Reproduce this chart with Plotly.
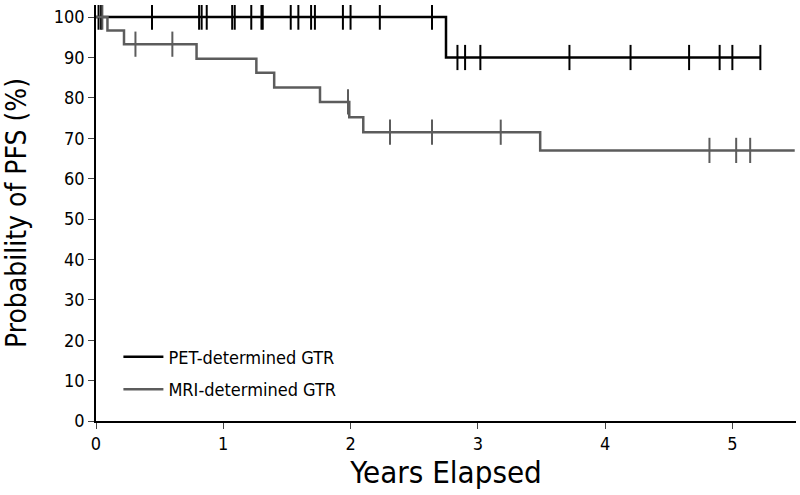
import plotly.graph_objects as go

# ---- data (years, survival %) ----
pet_event_times = [0.0, 2.75]
pet_survival = [100.0, 90.0]
pet_last_followup = 5.22
pet_censor_times = [0.02, 0.04, 0.44, 0.81, 0.83, 0.87, 1.07, 1.09, 1.22, 1.30, 1.31,
                    1.53, 1.59, 1.69, 1.72, 1.94, 2.00, 2.23, 2.64,
                    2.84, 2.90, 3.02, 3.72, 4.20, 4.66, 4.90, 5.00, 5.22]

mri_event_times = [0.0, 0.09, 0.22, 0.79, 1.26, 1.40, 1.76, 1.99, 2.10, 3.49]
mri_survival = [100.0, 96.7, 93.3, 89.7, 86.2, 82.6, 79.0, 75.2, 71.5, 67.0]
mri_last_followup = 5.49
mri_censor_times = [0.05, 0.31, 0.60, 1.98, 2.31, 2.64, 3.18, 4.82, 5.03, 5.14]

x_ticks = [0, 1, 2, 3, 4, 5]
y_ticks = [0, 10, 20, 30, 40, 50, 60, 70, 80, 90, 100]

FONT = "DejaVu Sans Condensed, DejaVu Sans"


def surv_at(t, times, surv):
    s = surv[0]
    for tt, ss in zip(times, surv):
        if tt <= t:
            s = ss
    return s


def step_xy(times, surv, last):
    return list(times) + [last], list(surv) + [surv[-1]]


fig = go.Figure()

series = [
    ("PET-determined GTR", pet_event_times, pet_survival, pet_last_followup, pet_censor_times, "#000000"),
    ("MRI-determined GTR", mri_event_times, mri_survival, mri_last_followup, mri_censor_times, "#5c5c5c"),
]

for name, times, surv, last, cens, color in series:
    xs, ys = step_xy(times, surv, last)
    fig.add_trace(go.Scatter(x=xs, y=ys, mode="lines", line=dict(color=color, width=2.5, shape="hv"),
                             name=name, legendgroup=name, showlegend=True))
    fig.add_trace(go.Scatter(x=cens, y=[surv_at(t, times, surv) for t in cens], mode="markers",
                             marker=dict(symbol="line-ns-open", size=18, color=color,
                                         line=dict(color=color, width=2)),
                             legendgroup=name, showlegend=False, hoverinfo="skip"))

fig.update_layout(
    width=800, height=495,
    margin=dict(l=96, r=4, t=5, b=74),
    paper_bgcolor="white", plot_bgcolor="white",
    font=dict(family=FONT, color="black", size=19),
    legend=dict(x=0.032, y=0.198, xanchor="left", yanchor="top", bgcolor="rgba(0,0,0,0)",
                font=dict(size=18, family=FONT), itemwidth=40, tracegroupgap=6,
                traceorder="grouped"),
    xaxis=dict(range=[0, 5.5], tickvals=x_ticks, ticks="outside", ticklen=6, tickwidth=1.3,
               showline=True, linecolor="black", linewidth=1.5, showgrid=False, zeroline=False,
               tickfont=dict(size=18, family=FONT),
               title=dict(text="Years Elapsed", font=dict(size=31, family=FONT), standoff=2)),
    yaxis=dict(range=[0, 103], tickvals=y_ticks, ticks="outside", ticklen=6, tickwidth=1.3,
               showline=True, linecolor="black", linewidth=1.5, showgrid=False, zeroline=False,
               tickfont=dict(size=18, family=FONT),
               title=dict(text="Probability of PFS (%)", font=dict(size=28, family=FONT), standoff=20)),
)

fig.write_html("out.html")
